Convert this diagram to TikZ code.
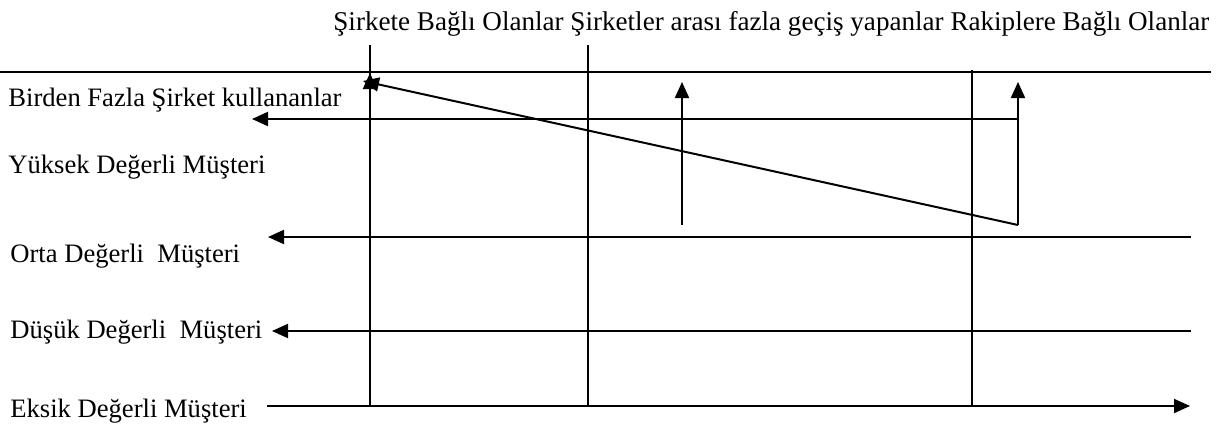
\documentclass[tikz,border=0pt]{standalone}
\usepackage{fontspec}
\setmainfont{Liberation Serif}
\usetikzlibrary{arrows.meta}

\begin{document}
\begin{tikzpicture}[
  x=0.5pt, y=-0.5pt,
  font=\fontsize{13.3}{16}\selectfont,
  line/.style={line width=1pt},
  arr/.style={line width=1pt, -{Triangle[length=8pt,width=7pt]}},
  lbl/.style={anchor=base west, inner sep=0pt}
]
\useasboundingbox (0,0) rectangle (1228,428);

% Column positions (x)
\def\xSirket{370}
\def\xGecis{588}
\def\xRakip{972}

% Header
\node[lbl, font=\fontsize{13.55}{16}\selectfont] (baslik) at (333,31) {Şirkete Bağlı Olanlar Şirketler arası fazla geçiş yapanlar Rakiplere Bağlı Olanlar};

% Row labels
\node[lbl] (birden) at (8,106) {Birden Fazla Şirket kullananlar};
\node[lbl] (yuksek) at (8,173) {Yüksek Değerli Müşteri};
\node[lbl] (orta)   at (10,262) {Orta Değerli\ \ Müşteri};
\node[lbl] (dusuk)  at (10,338) {Düşük Değerli\ \ Müşteri};
\node[lbl] (eksik)  at (10,417) {Eksik Değerli Müşteri};

% Column lines
\coordinate (s1) at (\xSirket,45);  \coordinate (s2) at (\xSirket,405);
\coordinate (g1) at (\xGecis,45);   \coordinate (g2) at (\xGecis,405);
\coordinate (r1) at (\xRakip,70);   \coordinate (r2) at (\xRakip,407);
\foreach \a/\b in {s1/s2,g1/g2,r1/r2} {
  \draw[line] (\a) -- (\b);
}

% Top line
\coordinate (ust1) at (0,72);
\coordinate (ust2) at (1211,72);
\draw[line] (ust1) -- (ust2);

% Arrow end points
\coordinate (kose)  at (1018,225);
\coordinate (kose2) at (1018,119);
\coordinate (rUc)   at (1018,82);
\coordinate (bUc)   at (252,119);
\coordinate (dUc)   at (363,81);
\coordinate (gAlt)  at (682,225);
\coordinate (gUc)   at (682,82);
\coordinate (sAlt)  at (\xSirket,215);
\coordinate (sUc)   at (\xSirket,73);

\coordinate (o1) at (1191,237); \coordinate (o2) at (268,237);
\coordinate (d1) at (1191,331); \coordinate (d2) at (272,331);
\coordinate (e1) at (267,406);  \coordinate (e2) at (1190,406);

% Arrows
\draw[arr] (kose2) -- (bUc);
\draw[arr] (kose) -- (rUc);
\draw[arr] (kose) -- (dUc);
\draw[arr] (gAlt) -- (gUc);
\draw[arr] (sAlt) -- (sUc);
\draw[arr] (o1) -- (o2);
\draw[arr] (d1) -- (d2);
\draw[arr] (e1) -- (e2);

\end{tikzpicture}
\end{document}
